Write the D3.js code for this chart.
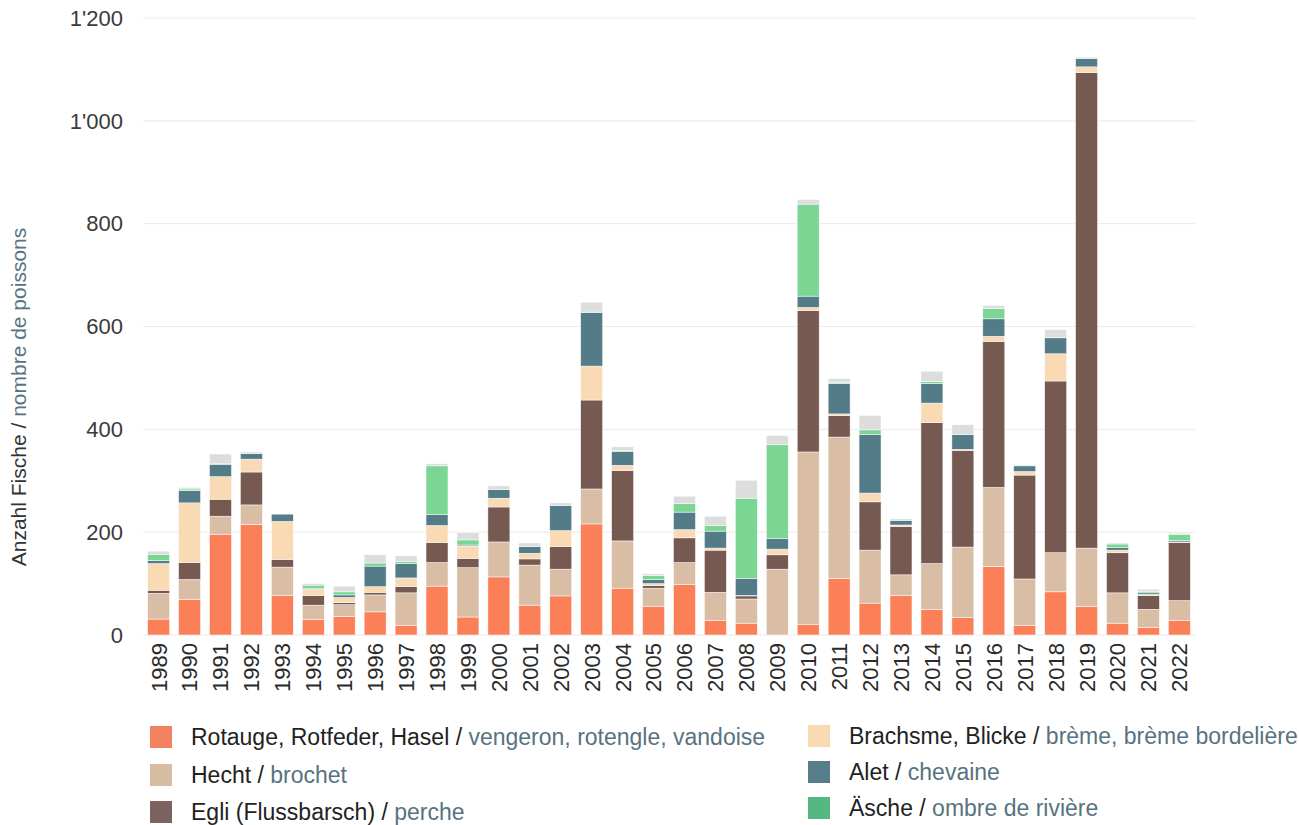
<!DOCTYPE html>
<html><head><meta charset="utf-8">
<script src="https://cdn.jsdelivr.net/npm/d3@7"></script>
<style>
body{margin:0;background:#fff;font-family:"Liberation Sans",Arial,sans-serif;}
</style></head>
<body><svg id="c" width="1299" height="825"></svg>
<script>
const years = [1989,1990,1991,1992,1993,1994,1995,1996,1997,1998,1999,2000,2001,2002,2003,2004,2005,2006,2007,2008,2009,2010,2011,2012,2013,2014,2015,2016,2017,2018,2019,2020,2021,2022];
const rotauge   = [31,69,196,215,77,30,36,45,19,95,35,113,58,76,216,91,56,98,28,23,0,20,110,62,77,50,34,133,19,84,55,23,15,28];
const hecht     = [50,39,35,38,55,28,23,33,63,46,96,68,78,52,68,92,35,43,55,47,128,336,275,103,40,89,137,154,90,76,114,59,35,39];
const egli      = [6,33,33,64,15,19,4,5,12,39,18,68,12,44,173,137,5,48,82,6,28,275,42,94,94,274,188,284,202,334,925,78,27,113];
const brachsme  = [52,116,44,25,74,12,10,11,17,33,24,17,11,31,66,10,4,16,4,1,11,6,3,17,3,38,2,10,7,53,11,5,2,1];
const alet      = [6,24,24,11,14,1,5,40,28,21,2,17,13,49,104,27,8,34,33,33,21,22,59,114,9,38,29,34,11,31,16,5,3,3];
const aesche    = [12,3,2,0,0,7,6,6,4,95,10,0,0,0,1,2,8,17,11,156,182,179,2,9,0,4,0,20,0,0,1,7,3,12];
const andere    = [6,3,18,3,0,3,11,16,11,4,14,7,7,5,19,7,3,14,18,35,18,9,8,28,3,20,19,6,2,16,2,2,4,2];
const yTicks = [0,200,400,600,800,1000,1200];

const seriesKeys = ["rotauge","hecht","egli","brachsme","alet","aesche","andere"];
const seriesData = {rotauge,hecht,egli,brachsme,alet,aesche,andere};
const barColors = {rotauge:"#fb8058",hecht:"#d9bea5",egli:"#765a52",brachsme:"#fadab4",alet:"#537c88",aesche:"#7bd694",andere:"#dddddd"};
const legendColors = {rotauge:"#f28262",hecht:"#d7bca4",egli:"#7c6360",brachsme:"#f9d9b2",alet:"#567d8a",aesche:"#55b782"};
const legendItems = [
  {key:"rotauge", de:"Rotauge, Rotfeder, Hasel", fr:"vengeron, rotengle, vandoise"},
  {key:"hecht", de:"Hecht", fr:"brochet"},
  {key:"egli", de:"Egli (Flussbarsch)", fr:"perche"},
  {key:"brachsme", de:"Brachsme, Blicke", fr:"brème, brème bordelière"},
  {key:"alet", de:"Alet", fr:"chevaine"},
  {key:"aesche", de:"Äsche", fr:"ombre de rivière"}
];

const rows = years.map((yr,i)=>{const o={year:yr}; seriesKeys.forEach(k=>o[k]=seriesData[k][i]); return o;});
const stack = d3.stack().keys(seriesKeys)(rows);

const svg = d3.select("#c");
const pL=143, pR=1195, pT=18, pB=635;
const x = d3.scaleBand().domain(years).range([pL,pR]).paddingInner(0.29).paddingOuter(0.15);
const y = d3.scaleLinear().domain([0,1200]).range([pB,pT]);

// grid
svg.append("g").selectAll("line").data(yTicks).join("line")
  .attr("x1",pL).attr("x2",pR).attr("y1",d=>y(d)).attr("y2",d=>y(d))
  .attr("stroke","#eaeaea").attr("stroke-width",1);

// y labels
const fmt = d=> d3.format(",")(d).replace(/,/g,"'");
svg.append("g").selectAll("text").data(yTicks).join("text")
  .attr("x",123).attr("y",d=>y(d)).attr("dy","0.35em").attr("text-anchor","end")
  .attr("font-size",22).attr("fill","#3a3a3a").text(fmt);

// bars
svg.append("g").selectAll("g").data(stack).join("g").attr("fill",d=>barColors[d.key])
  .selectAll("rect").data(d=>d).join("rect")
  .attr("x",d=>x(d.data.year)).attr("width",x.bandwidth())
  .attr("y",d=>y(d[1])).attr("height",d=>Math.max(0,y(d[0])-y(d[1])))
  .attr("stroke","#fff").attr("stroke-width",0.6).attr("stroke-opacity",0.8);

// x labels
svg.append("g").selectAll("text").data(years).join("text")
  .attr("transform",d=>`translate(${x(d)+x.bandwidth()/2},643) rotate(-90)`)
  .attr("text-anchor","end").attr("dy","0.36em")
  .attr("font-size",22).attr("fill","#2a2a2a").text(d=>d);

// y title
const yt = svg.append("text").attr("transform","translate(26,397) rotate(-90)")
  .attr("text-anchor","middle").attr("font-size",21);
yt.append("tspan").attr("fill","#333").text("Anzahl Fische / ");
yt.append("tspan").attr("fill","#58737f").text("nombre de poissons");

// legend
const lg = svg.append("g");
legendItems.forEach((it,i)=>{
  const col = i<3?0:1, row=i%3;
  const lx = col===0?150:808;
  const ly = col===0?[737,775,812][row]:[736,772,808][row];
  lg.append("rect").attr("x",lx).attr("y",ly-11).attr("width",22).attr("height",22).attr("fill",legendColors[it.key]);
  const t = lg.append("text").attr("x",lx+41).attr("y",ly).attr("dy","0.36em").attr("font-size",23);
  t.append("tspan").attr("fill","#222").text(it.de+" / ");
  t.append("tspan").attr("fill","#58737f").text(it.fr);
});
</script></body></html>
